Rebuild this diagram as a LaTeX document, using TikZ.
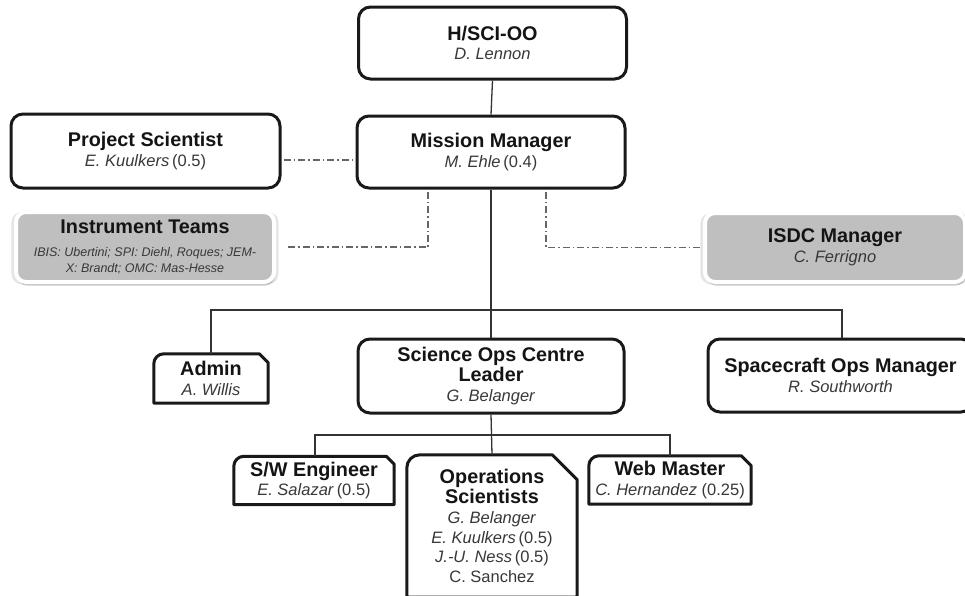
\documentclass[tikz,border=0pt]{standalone}
\usepackage{fontspec}
\setmainfont{Liberation Sans}
\usetikzlibrary{shadows,calc}
\newcommand\ttl{\fontsize{19.8}{21}\selectfont\bfseries\color{black!92}}
\newcommand\nm[1]{{\color{black!78}\textit{#1}}}
\newcommand\nmu[1]{{\color{black!78}#1}}
\newcommand\cboxborder[3]{\draw[boxline] (#1.south west) -- ([yshift=-#3]#1.north west) arc[start angle=180,end angle=90,radius=#3] -- ([xshift=-#2]#1.north east) -- ([yshift=-#2]#1.north east) -- (#1.south east) -- cycle;}
\tikzset{
  every node/.style={font=\fontsize{16.5}{19.8}\selectfont},
  bigbox/.style={draw=black!90, line width=3pt, rounded corners=12pt, fill=white, align=center, inner sep=0pt},
  graybox/.style={fill=black!25, draw=white, line width=4pt, rounded corners=10pt, align=center, inner sep=0pt,
     general shadow={shadow xshift=0pt, shadow yshift=-1pt, shadow scale=1.035, opacity=0.25, fill=black!40},
     drop shadow={shadow xshift=1pt, shadow yshift=-3.5pt, opacity=0.35, fill=black!60}},
  plainbox/.style={align=center, inner sep=0pt},
  boxline/.style={draw=black!90, line width=3pt, line join=round},
  link/.style={draw=black!80, line width=1.3pt},
  ddlink/.style={draw=black!60, line width=1.2pt, dash pattern=on 7pt off 3pt on 1.5pt off 3pt},
}
\begin{document}
\begin{tikzpicture}[x=1pt,y=-1pt]
\useasboundingbox (0,0) rectangle (965,595);
\clip (0,0) rectangle (965,595);
\fill[white] (0,0) rectangle (965,595);

% top level
\node[bigbox, minimum width=268pt, minimum height=72pt] (hsci) at (492.5,43) {{\ttl H/SCI-OO}\\\nm{D. Lennon}};
\node[bigbox, minimum width=268pt, minimum height=72pt] (mm) at (491,152) {{\ttl Mission Manager}\\\nm{M. Ehle}\,\nmu{(0.4)}};
\node[bigbox, minimum width=269pt, minimum height=74pt] (ps) at (145.5,151) {{\ttl Project Scientist}\\\nm{E. Kuulkers}\,\nmu{(0.5)}};

% gray boxes
\node[graybox, minimum width=258pt, minimum height=70pt] (it) at (145,247) {{\ttl Instrument Teams}\\[3pt]{\fontsize{12.5}{15}\selectfont\color{black!78}\itshape IBIS: Ubertini; SPI: Diehl, Roques; JEM-}\\[-4.5pt]{\fontsize{12.5}{15}\selectfont\color{black!78}\itshape X: Brandt; OMC: Mas-Hesse}};
\node[graybox, minimum width=260pt, minimum height=69pt] (isdc) at (835,247.5) {{\ttl ISDC Manager}\\\nm{C. Ferrigno}};

% second level
\node[bigbox, minimum width=266pt, minimum height=74pt] (soc) at (491,376) {{\ttl Science Ops Centre}\\[1pt]{\ttl Leader}\\\nm{G. Belanger}};
\node[bigbox, minimum width=265pt, minimum height=73pt] (scom) at (840.5,375.5) {{\ttl Spacecraft Ops Manager}\\\nm{R. Southworth}};
\node[plainbox, minimum width=114pt, minimum height=49pt, fill=white] (admin) at (211,378.5) {{\ttl Admin}\\\nm{A. Willis}};
\cboxborder{admin}{9pt}{10pt}

% third level
\node[plainbox, minimum width=160pt, minimum height=48pt, fill=white] (sw) at (314,480.5) {{\ttl S/W Engineer}\\\nm{E. Salazar}\,\nmu{(0.5)}};
\cboxborder{sw}{8pt}{10pt}
\node[plainbox, minimum width=162pt, minimum height=48pt, fill=white] (web) at (670,480) {{\ttl Web Master}\\\nm{C. Hernandez} \nmu{(0.25)}};
\cboxborder{web}{10pt}{10pt}
\node[plainbox, minimum width=170pt, minimum height=142pt, fill=white] (ops) at (492,526) {{\ttl Operations}\\{\ttl Scientists}\\\nm{G. Belanger}\\\nm{E. Kuulkers}\,\nmu{(0.5)}\\\nm{J.-U. Ness}\,\nmu{(0.5)}\\\nmu{C. Sanchez}};
\cboxborder{ops}{25pt}{13pt}

% solid links
\coordinate (bar1) at (492,310);
\coordinate (bar2) at (492,435);
\draw[link] (hsci.south) -- (mm.north);
\draw[link] (mm.south) -- (soc.north);
\draw[link] (admin.north) |- (bar1) -| ([xshift=1.5pt]scom.north);
\draw[link] (soc.south) -- (ops.north);
\draw[link] ([xshift=1pt]sw.north) |- (bar2) -| (web.north);

% dash-dot links
\coordinate (psd) at ([yshift=-9pt]ps.east);
\draw[ddlink] ([xshift=2pt]psd) -- ([xshift=-2pt]psd -| mm.west);
\coordinate (mmi) at ([xshift=-63pt]mm.south);
\coordinate (mmd) at ([xshift=55pt]mm.south);
\draw[ddlink] ([yshift=-2pt]mmi) |- ([xshift=9pt]it.east);
\draw[ddlink] ([yshift=-2pt]mmd) |- ([xshift=-2pt]isdc.west);
\end{tikzpicture}
\end{document}
